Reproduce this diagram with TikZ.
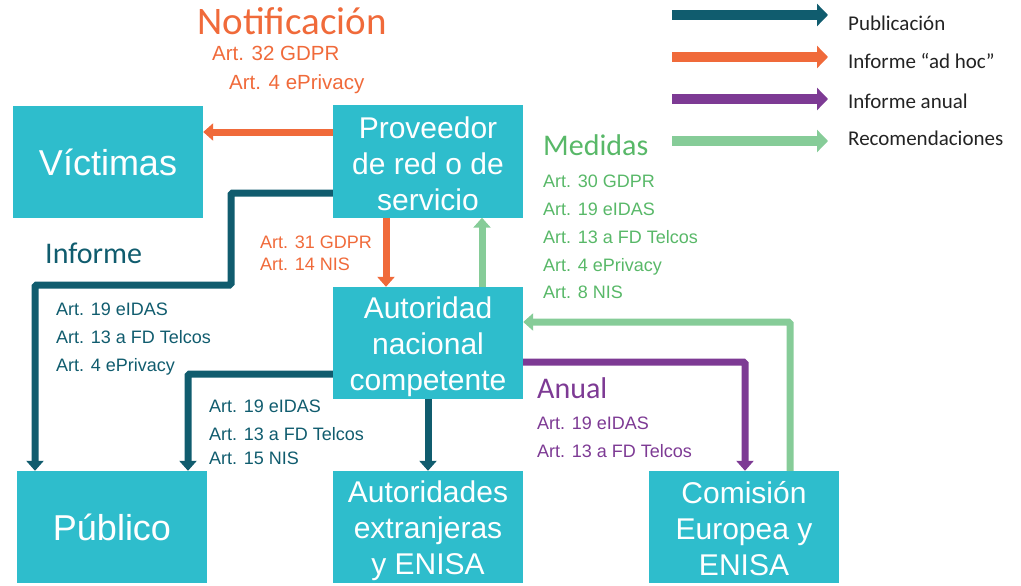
\documentclass[tikz,border=0pt]{standalone}
\usepackage{fontspec}
\setmainfont{Liberation Sans}
\newfontfamily\calfont{Carlito}
\usetikzlibrary{arrows.meta}
\definecolor{boxc}{RGB}{46,189,204}
\definecolor{tealc}{RGB}{16,92,110}
\definecolor{orgc}{RGB}{240,106,58}
\definecolor{purc}{RGB}{125,58,148}
\definecolor{grnc}{RGB}{134,204,152}
\definecolor{grntxt}{RGB}{88,184,104}
\definecolor{legtxt}{RGB}{35,35,35}
\begin{document}
\begin{tikzpicture}[x=1pt,y=-1pt,
  box/.style={fill=boxc, text=white, minimum width=190pt, minimum height=112pt, align=center, inner sep=0pt, font=\fontsize{30}{36}\selectfont},
  bigbox/.style={box, font=\fontsize{36}{40}\selectfont},
  boxtext/.style={text=white, align=center, inner sep=0pt, font=\fontsize{30}{36}\selectfont},
  conn/.style={line width=7pt, rounded corners=1.5pt, -{Triangle[width=17pt,length=10pt]}},
  legarr/.style={line width=10pt, -{Triangle[width=22pt,length=11pt]}},
  small/.style={anchor=base west, inner sep=0pt, font=\fontsize{18}{20}\selectfont},
  mid/.style={anchor=base west, inner sep=0pt, font=\fontsize{20.5}{24}\selectfont},
  head/.style={anchor=base west, inner sep=0pt, font=\calfont\fontsize{30}{34}\selectfont},
  legtext/.style={anchor=base west, inner sep=0pt, text=legtxt, font=\calfont\fontsize{21}{24}\selectfont}
]
\useasboundingbox (0,0) rectangle (1021,586);

% boxes
\node[bigbox] (vic) at (108,162) {Víctimas};
\node[box] (prov) at (428,161.5) {};
\node[boxtext] (provt) at ([yshift=-2pt]prov.center) {Proveedor\\de red o de\\servicio};
\node[box] (aut) at (428,343) {};
\node[boxtext] (autt) at ([yshift=-4pt]aut.center) {Autoridad\\nacional\\competente};
\node[bigbox] (pub) at (112,527) {Público};
\node[box] (ext) at (428,527) {};
\node[boxtext] (extt) at ([yshift=-4pt]ext.center) {Autoridades\\extranjeras\\y ENISA};
\node[box] (com) at (744,527) {};
\node[boxtext] (comt) at ([yshift=-2pt]com.center) {Comisión\\Europea y\\ENISA};

% connectors
\draw[conn, orgc] (prov.west |- 0,132) -- (vic.east |- 0,132);
\draw[conn, tealc] (prov.west |- 0,193) -- (231,193) -- (231,285) -- (35,285) -- (pub.north -| 35,0);
\draw[conn, orgc] (prov.south -| 386,0) -- (aut.north -| 386,0);
\draw[conn, grnc] (aut.north -| 482,0) -- (prov.south -| 482,0);
\draw[conn, tealc] (aut.west |- 0,374) -- (188,374) -- (pub.north -| 188,0);
\draw[conn, tealc] (aut.south) -- (ext.north);
\draw[conn, purc] (aut.east |- 0,362) -- (745,362) -- (com.north -| 745,0);
\draw[conn, grnc] (com.north -| 790,0) -- (790,322) -- (aut.east |- 0,322);

% labels
\node[anchor=base, inner sep=0pt, text=orgc, font=\calfont\fontsize{39}{42}\selectfont] (notif) at (292,35) {Notificación};
\node[mid, text=orgc] (n1) at (212,61) {Art. 32 GDPR};
\node[mid, text=orgc] (n2) at (229,90) {Art. 4 ePrivacy};

\node[head, text=tealc] (inf) at (45,263) {Informe};
\node[small, text=tealc] (i1) at (56,315) {Art. 19 eIDAS};
\node[small, text=tealc] (i2) at (56,343) {Art. 13 a FD Telcos};
\node[small, text=tealc] (i3) at (56,371) {Art. 4 ePrivacy};

\node[small, text=orgc] (o1) at (260,248) {Art. 31 GDPR};
\node[small, text=orgc] (o2) at (260,270) {Art. 14 NIS};

\node[head, text=grntxt] (med) at (543,155) {Medidas};
\node[small, text=grntxt] (m1) at (543,187) {Art. 30 GDPR};
\node[small, text=grntxt] (m2) at (543,215) {Art. 19 eIDAS};
\node[small, text=grntxt] (m3) at (543,243) {Art. 13 a FD Telcos};
\node[small, text=grntxt] (m4) at (543,271) {Art. 4 ePrivacy};
\node[small, text=grntxt] (m5) at (543,298) {Art. 8 NIS};

\node[small, text=tealc] (p1) at (209,412) {Art. 19 eIDAS};
\node[small, text=tealc] (p2) at (209,440) {Art. 13 a FD Telcos};
\node[small, text=tealc] (p3) at (209,464) {Art. 15 NIS};

\node[head, text=purc] (anual) at (537,398) {Anual};
\node[small, text=purc] (a1) at (537,429) {Art. 19 eIDAS};
\node[small, text=purc] (a2) at (537,457) {Art. 13 a FD Telcos};

% legend
\coordinate (l1a) at (672,15);  \coordinate (l1b) at (828,15);
\coordinate (l2a) at (672,57);  \coordinate (l2b) at (828,57);
\coordinate (l3a) at (672,99);  \coordinate (l3b) at (828,99);
\coordinate (l4a) at (672,141); \coordinate (l4b) at (828,141);
\draw[legarr, tealc] (l1a) -- (l1b);
\draw[legarr, orgc] (l2a) -- (l2b);
\draw[legarr, purc] (l3a) -- (l3b);
\draw[legarr, grnc] (l4a) -- (l4b);
\node[legtext] (lg1) at (848,31) {Publicación};
\node[legtext] (lg2) at (848,69) {Informe “ad hoc”};
\node[legtext] (lg3) at (848,108) {Informe anual};
\node[legtext] (lg4) at (848,146) {Recomendaciones};
\end{tikzpicture}
\end{document}
